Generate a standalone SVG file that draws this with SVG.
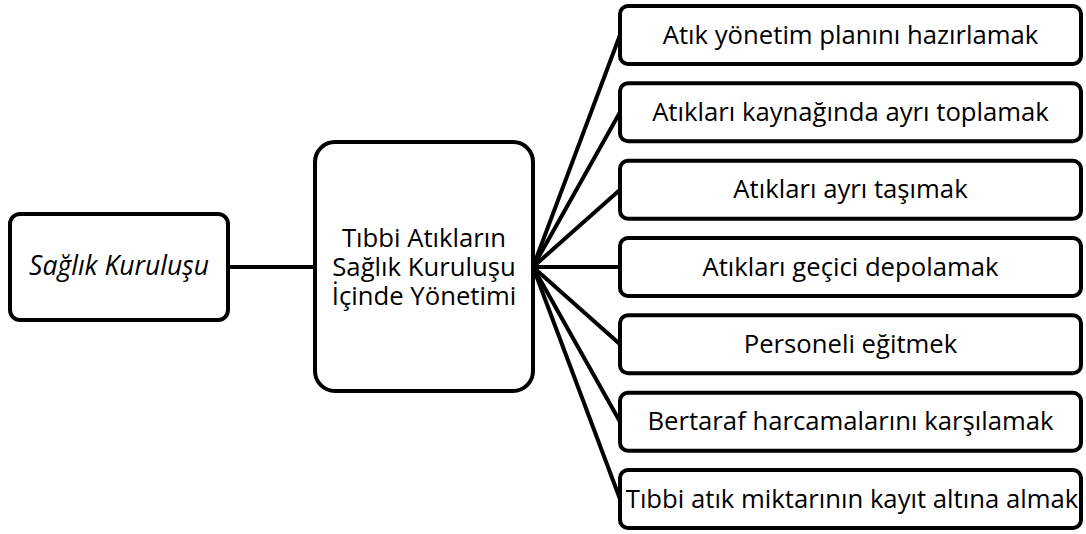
<svg xmlns="http://www.w3.org/2000/svg" width="1086" height="534" viewBox="0 0 1086 534">
<style>
.box{fill:#fff;stroke:#000;stroke-width:4}
.t{font-family:"Open Sans","Noto Sans",sans-serif;font-size:25.7px;fill:#000;text-anchor:middle}
.it{font-style:italic;font-size:26.5px}
#connectors line{stroke:#000;stroke-width:4;stroke-linecap:round}
</style>
<rect width="1086" height="534" fill="#fff"/>
<g id="connectors">
<line x1="228" y1="267" x2="315" y2="267"/>
<line x1="533" y1="267" x2="620" y2="35"/>
<line x1="533" y1="267" x2="620" y2="112.3"/>
<line x1="533" y1="267" x2="620" y2="189.7"/>
<line x1="533" y1="267" x2="620" y2="267"/>
<line x1="533" y1="267" x2="620" y2="344.3"/>
<line x1="533" y1="267" x2="620" y2="421.7"/>
<line x1="533" y1="267" x2="620" y2="499"/>
</g>
<g id="saglik">
<rect class="box" x="10" y="214" width="218" height="106" rx="10"/>
<text class="t it" x="119" y="275">Sağlık Kuruluşu</text>
</g>
<g id="merkez">
<rect class="box" x="315" y="142" width="218" height="249" rx="20"/>
<text class="t" x="424" y="247"><tspan x="424" y="247">Tıbbi Atıkların</tspan><tspan x="424" y="276">Sağlık Kuruluşu</tspan><tspan x="424" y="305">İçinde Yönetimi</tspan></text>
</g>
<g id="n1">
<rect class="box" x="620" y="6" width="461" height="58" rx="8"/>
<text class="t" x="850.5" y="43.5">Atık yönetim planını hazırlamak</text>
</g>
<g id="n2">
<rect class="box" x="620" y="83.3" width="461" height="58" rx="8"/>
<text class="t" x="850.5" y="120.8">Atıkları kaynağında ayrı toplamak</text>
</g>
<g id="n3">
<rect class="box" x="620" y="160.7" width="461" height="58" rx="8"/>
<text class="t" x="850.5" y="198.2">Atıkları ayrı taşımak</text>
</g>
<g id="n4">
<rect class="box" x="620" y="238" width="461" height="58" rx="8"/>
<text class="t" x="850.5" y="275.5">Atıkları geçici depolamak</text>
</g>
<g id="n5">
<rect class="box" x="620" y="315.3" width="461" height="58" rx="8"/>
<text class="t" x="850.5" y="352.8">Personeli eğitmek</text>
</g>
<g id="n6">
<rect class="box" x="620" y="392.7" width="461" height="58" rx="8"/>
<text class="t" x="850.5" y="430.2">Bertaraf harcamalarını karşılamak</text>
</g>
<g id="n7">
<rect class="box" x="620" y="470" width="461" height="58" rx="8"/>
<text class="t" x="852" y="507.5">Tıbbi atık miktarının kayıt altına almak</text>
</g>
</svg>
